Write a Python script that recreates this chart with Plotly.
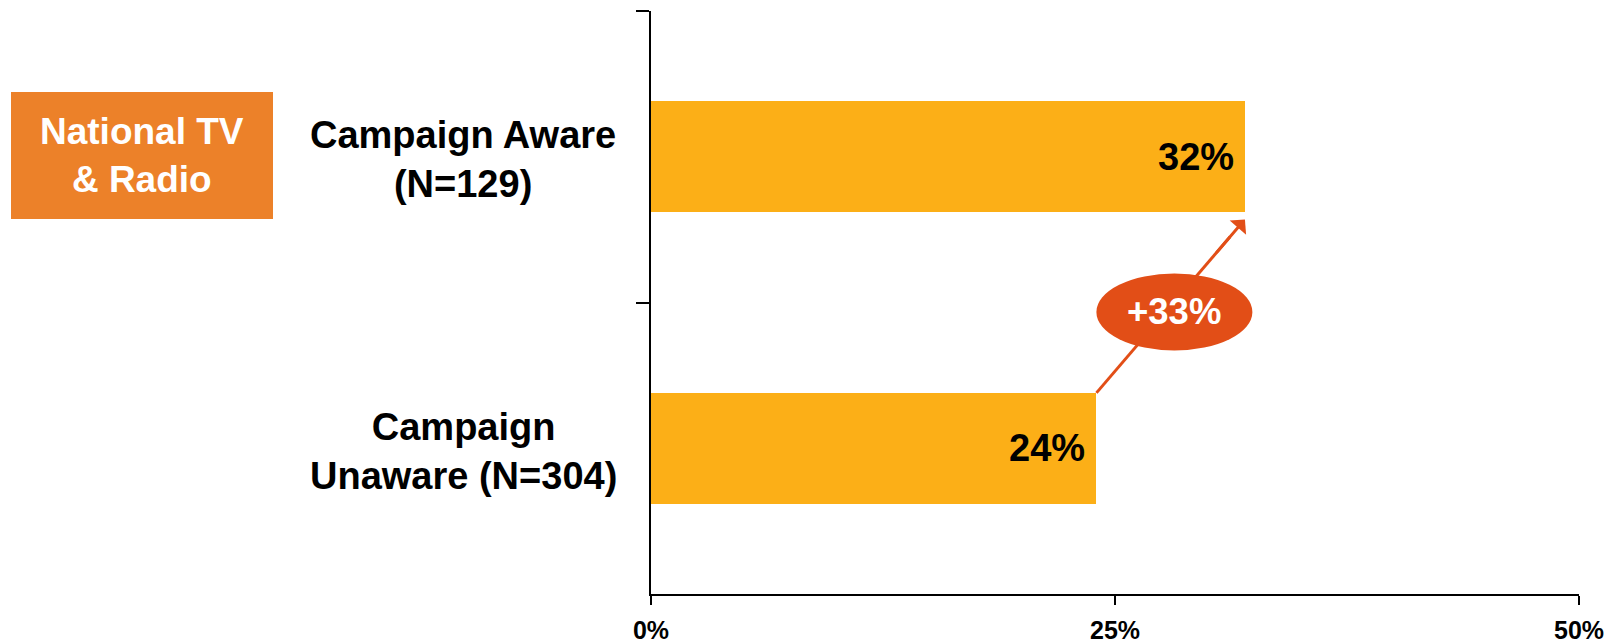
import plotly.graph_objects as go

# ---- data ----
categories = ["Campaign Aware (N=129)", "Campaign Unaware (N=304)"]
label_lines = [["Campaign Aware", "(N=129)"], ["Campaign", "Unaware (N=304)"]]
values = [0.32, 0.24]
x_ticks = [0, 0.25, 0.5]
x_tick_labels = ["0%", "25%", "50%"]
panel_title = "National TV<br>& Radio"

BAR = "#FCAF17"
BOX = "#EC8129"
ACCENT = "#E24E17"
FONT = "Liberation Sans, Arial, sans-serif"
BW = 0.38

lift = (values[0] - values[1]) / values[1]

fig = go.Figure()
fig.add_trace(go.Bar(
    y=categories, x=values, orientation="h",
    marker=dict(color=BAR, line=dict(width=0)),
    width=BW, hoverinfo="skip",
))

annotations = []
# value labels inside bar ends
for c, v in zip(categories, values):
    annotations.append(dict(
        x=v, y=c, xref="x", yref="y", text=f"{v:.0%}", showarrow=False,
        xanchor="right", yanchor="middle", xshift=-9, yshift=0,
        font=dict(family=FONT, size=38, color="black", weight="bold"),
    ))
# category labels (centered, multi-line)
for c, lines in zip(categories, label_lines):
    annotations.append(dict(
        x=(463 - 651) / 928, y=c, xref="paper", yref="y",
        text="<br>".join(lines), showarrow=False, align="center",
        xanchor="center", yanchor="middle", yshift=-3,
        font=dict(family=FONT, size=38, color="black", weight="bold"),
    ))

# arrow geometry from bar ends (category index 0 = top, 1 = bottom)
tail = (values[1], 1 - BW / 2)
head = (values[0], 0 + BW / 2 + 0.025)


def along(t):
    return (tail[0] + t * (head[0] - tail[0]), tail[1] + t * (head[1] - tail[1]))


shaft_end = along(0.9)
head_start = along(0.8)
center = ((tail[0] + head[0]) / 2 + 0.002, (tail[1] + head[1]) / 2 + 0.02)

shapes = [
    # arrow shaft
    dict(type="line", xref="x", yref="y", x0=tail[0], y0=tail[1], x1=shaft_end[0], y1=shaft_end[1],
         line=dict(color=ACCENT, width=3)),
    # ellipse badge
    dict(type="circle", xref="x", yref="y", xsizemode="pixel", ysizemode="pixel",
         xanchor=center[0], yanchor=center[1], x0=-78, x1=78, y0=-38.5, y1=38.5,
         fillcolor=ACCENT, line=dict(width=0)),
    # panel box
    dict(type="rect", xref="paper", yref="paper",
         x0=(11 - 651) / 928, x1=(273 - 651) / 928,
         y0=(594 - 219) / 583, y1=(594 - 92) / 583,
         fillcolor=BOX, line=dict(width=0)),
]

# arrow head
annotations.append(dict(
    x=head[0], y=head[1], xref="x", yref="y", ax=head_start[0], ay=head_start[1],
    axref="x", ayref="y", text="", showarrow=True, arrowhead=1, arrowsize=1.2,
    arrowwidth=3, arrowcolor=ACCENT, standoff=0, startstandoff=0,
))
annotations.append(dict(
    x=center[0], y=center[1], xref="x", yref="y", text=f"+{lift:.0%}", showarrow=False,
    xanchor="center", yanchor="middle",
    font=dict(family=FONT, size=36.5, color="white", weight="bold"),
))
annotations.append(dict(
    x=(142 - 651) / 928, y=(594 - 155.5) / 583, xref="paper", yref="paper",
    text=panel_title, showarrow=False, align="center", xanchor="center", yanchor="middle",
    font=dict(family=FONT, size=37, color="white", weight="bold"),
))

fig.update_layout(
    width=1620, height=644,
    margin=dict(l=651, r=41, t=11, b=50),
    paper_bgcolor="white", plot_bgcolor="white",
    showlegend=False, bargap=0,
    shapes=shapes, annotations=annotations,
    xaxis=dict(
        range=[0, 0.5], tickvals=x_ticks, ticktext=x_tick_labels,
        showgrid=False, zeroline=False, showline=True, linecolor="black", linewidth=1.5,
        ticks="outside", ticklen=9, tickwidth=1.5, tickcolor="black",
        tickfont=dict(family=FONT, size=25, color="black", weight="bold"),
        ticklabelstandoff=4, automargin=False,
    ),
    yaxis=dict(
        categoryorder="array", categoryarray=categories, range=[1.5, -0.5],
        showgrid=False, zeroline=False, showline=True, linecolor="black", linewidth=1.5,
        ticks="outside", ticklen=13, tickwidth=1.5, tickcolor="black",
        tickson="boundaries", showticklabels=False, automargin=False,
    ),
)

fig.write_html("out.html")
